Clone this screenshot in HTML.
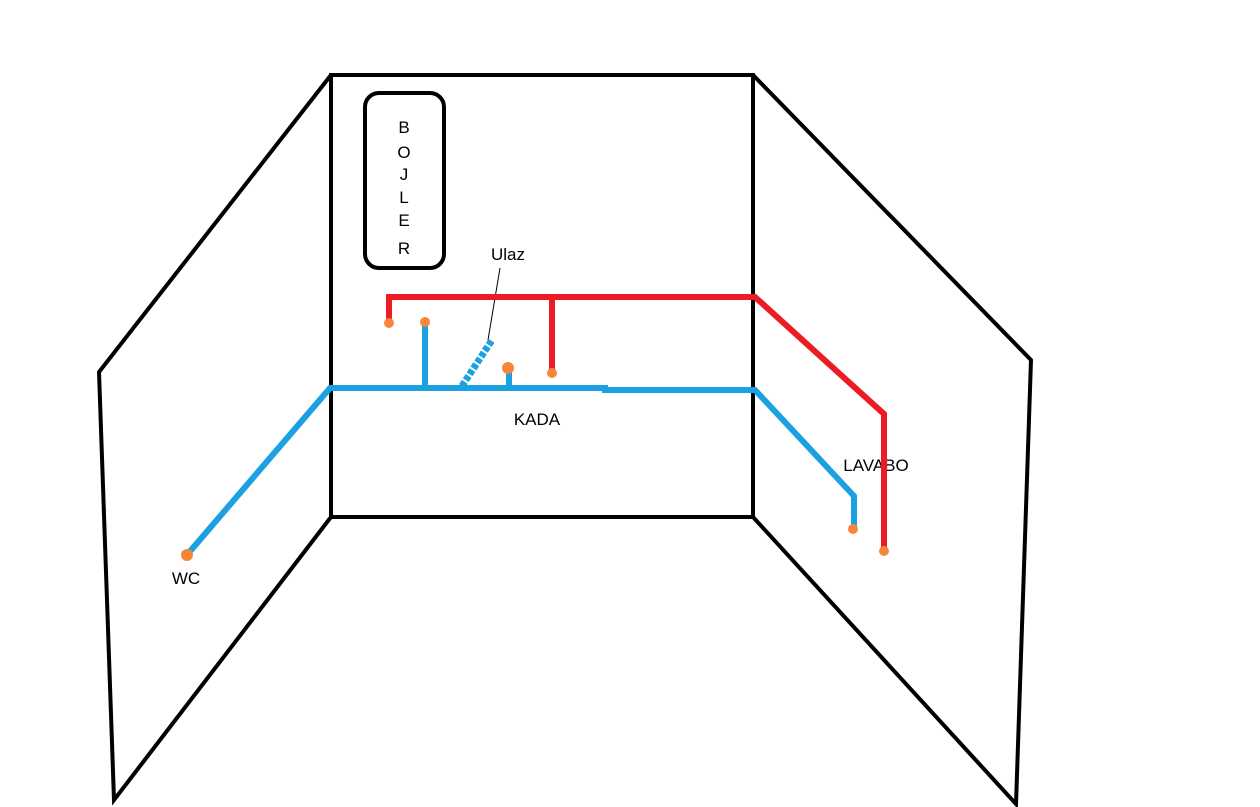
<!DOCTYPE html>
<html><head><style>html,body{margin:0;padding:0;background:#fff;width:1260px;height:807px;overflow:hidden}</style></head>
<body>
<svg width="1260" height="807" xmlns="http://www.w3.org/2000/svg" style="display:block">
<g fill="none" stroke="#000" stroke-width="4" stroke-linejoin="miter">
<rect x="331" y="75" width="422" height="442"/>
<polyline points="331,75 99,372 114,800 331,517"/>
<polyline points="753,75 1031,360 1016,804 753,517"/>
<rect x="365" y="93" width="79" height="175" rx="14"/>
</g>
<g font-family="Liberation Sans, sans-serif" font-size="17" fill="#000" text-anchor="middle">
<text x="404" y="133">B</text><text x="404" y="158">O</text><text x="404" y="180">J</text>
<text x="404" y="203">L</text><text x="404" y="226">E</text><text x="404" y="254">R</text>
<text x="508" y="260">Ulaz</text><text x="537" y="425">KADA</text>
<text x="186" y="584">WC</text><text x="876" y="471">LAVABO</text>
</g>
<line x1="500" y1="268" x2="488" y2="340" stroke="#000" stroke-width="1"/>
<g fill="none" stroke="#ed1c24" stroke-width="6">
<polyline points="389,325 389,297 755,297 884,414 884,551"/>
<line x1="552" y1="297" x2="552" y2="373"/>
</g>
<g fill="none" stroke="#1ba1e2" stroke-width="6">
<polyline points="186,556 330,388 605,388 605,390 755,390 854,496 854,528"/>
<line x1="425" y1="323" x2="425" y2="388"/>
<line x1="509" y1="370" x2="509" y2="388"/>
<line x1="462" y1="386" x2="492" y2="340" stroke-dasharray="5,2" stroke-width="7"/>
</g>
<g fill="#f7863a">
<circle cx="389" cy="323" r="5"/><circle cx="425" cy="322" r="5"/><circle cx="508" cy="368" r="6"/>
<circle cx="552" cy="373" r="5"/><circle cx="187" cy="555" r="6"/><circle cx="853" cy="529" r="5"/>
<circle cx="884" cy="551" r="5"/>
</g>
</svg>
</body></html>
